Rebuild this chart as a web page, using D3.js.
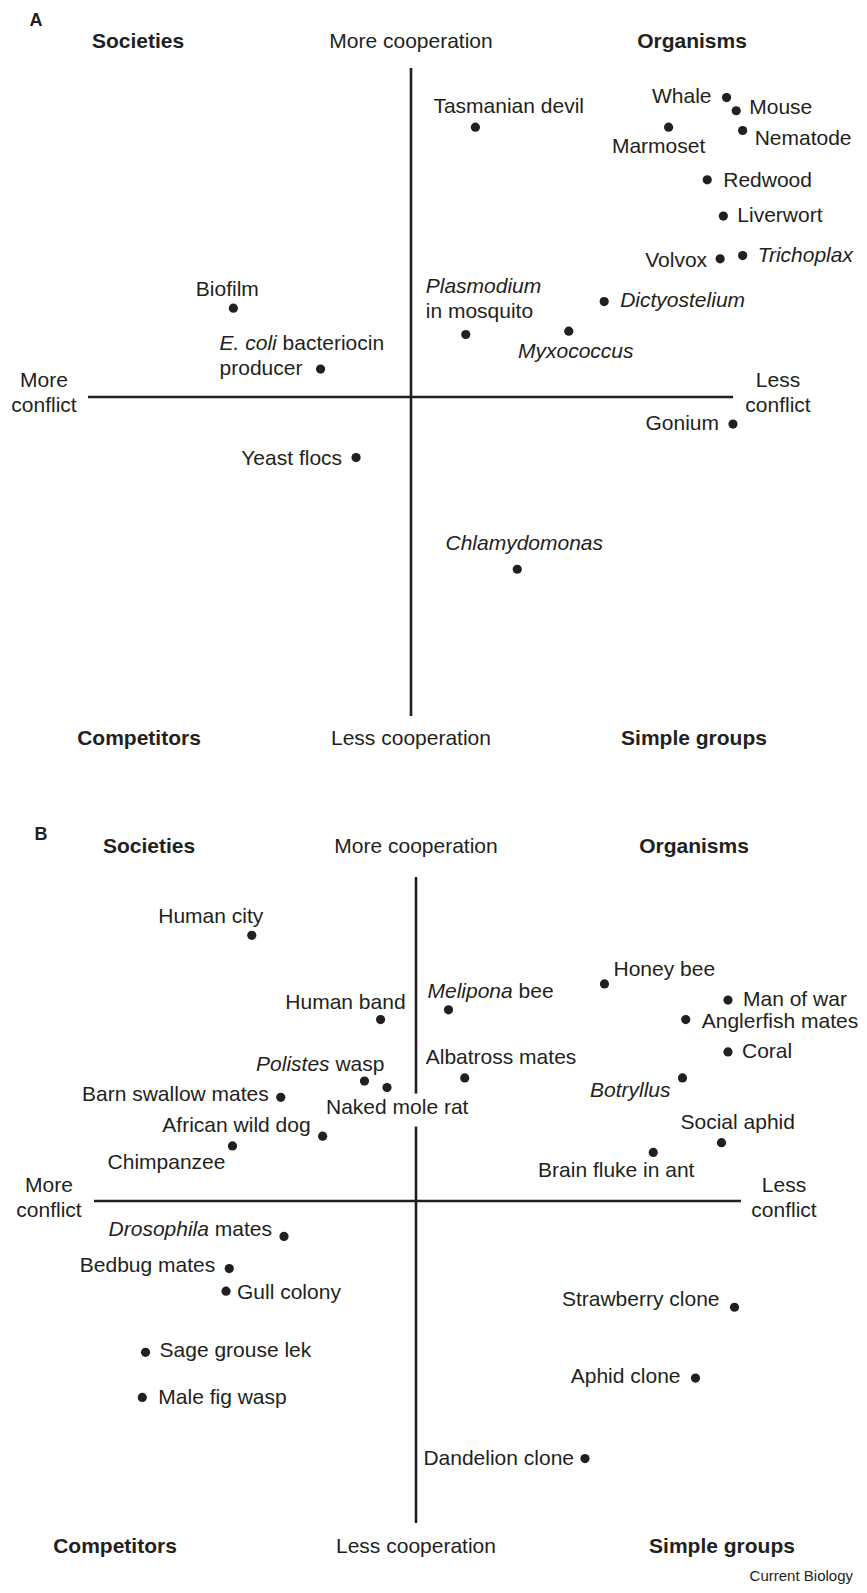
<!DOCTYPE html>
<html>
<head>
<meta charset="utf-8">
<script src="https://cdn.jsdelivr.net/npm/d3@7"></script>
<style>
  body { margin: 0; background: #fff; }
  text { font-family: "Liberation Sans", Arial, Helvetica, sans-serif; fill: #231f20; }
</style>
</head>
<body>
<svg id="chart" width="867" height="1593"></svg>
<script>
// ---- data: conflict (-100 more .. 100 less), cooperation (-100 less .. 100 more)
// labels: "_x_" = italic, "|" = line break
var namesA = ["Tasmanian devil", "Whale", "Mouse", "Marmoset", "Nematode", "Redwood",
  "Liverwort", "Volvox", "_Trichoplax_", "_Dictyostelium_", "_Plasmodium_|in mosquito",
  "_Myxococcus_", "Biofilm", "_E. coli_ bacteriocin|producer", "Gonium", "Yeast flocs",
  "_Chlamydomonas_"];
var conflictA    = [20, 98, 101, 80, 103, 92, 97, 96, 103, 60, 17, 49, -55, -28, 100, -17, 33];
var cooperationA = [82, 91, 87, 82, 81, 66, 55, 42, 43, 29, 19, 20, 27, 8.5, -8.5, -19, -54];

var namesB = ["Human city", "Human band", "_Melipona_ bee", "Honey bee", "Man of war",
  "Anglerfish mates", "Coral", "Albatross mates", "_Botryllus_", "_Polistes_ wasp",
  "Naked mole rat", "Barn swallow mates", "African wild dog", "Chimpanzee", "Social aphid",
  "Brain fluke in ant", "_Drosophila_ mates", "Bedbug mates", "Gull colony",
  "Sage grouse lek", "Male fig wasp", "Strawberry clone", "Aphid clone", "Dandelion clone"];
var conflictB    = [-51, -11, 10, 58, 96, 83, 96, 15, 82, -16, -9, -42, -29, -57, 94, 73,
  -41, -58, -59, -84, -85, 98, 86, 52];
var cooperationB = [82, 56, 59, 67, 62, 56, 46, 38, 38, 37, 35, 32, 20, 17, 18, 15,
  -11, -21, -28, -47, -61, -33, -55, -80];

var quadrantNames = ["Societies", "Organisms", "Competitors", "Simple groups"];
var axisNames = ["More cooperation", "Less cooperation", "More|conflict", "Less|conflict"];

// ---- label placement: [dx, dy, anchor] relative to the dot
var labelPosA = [[-42,-14,"start"],[-15,5,"end"],[13,3,"start"],[-10,26,"middle"],[12,14,"start"],
  [16,7,"start"],[14,6,"start"],[-13,8,"end"],[15,6,"start"],[16,5,"start"],[-40,-41,"start"],
  [7,27,"middle"],[-6,-12,"middle"],[-101,-19,"start"],[-14,6,"end"],[-14,7,"end"],[7,-19,"middle"]];
var labelPosB = [[-41,-12,"middle"],[25,-11,"end"],[-21,-12,"start"],[9,-8,"start"],[15,6,"start"],
  [16,8,"start"],[14,6,"start"],[-39,-14,"start"],[-12,19,"end"],[20,-10,"end"],[-61,26,"start"],
  [-12,4,"end"],[-12,-4,"end"],[-7,23,"end"],[-41,-14,"start"],[-37,25,"middle"],[-12,0,"end"],
  [-14,3,"end"],[11,8,"start"],[14,5,"start"],[16,7,"start"],[-15,-1,"end"],[-15,5,"end"],[-11,6,"end"]];

var panels = [
  { tag: "A", tagPos: [36, 26], xr: [88, 411, 733], yr: [716, 397, 68],
    names: namesA, xs: conflictA, ys: cooperationA, pos: labelPosA,
    topY: 48, botY: 745, leftX: 44, rightX: 778, leftY: -10,
    quadX: [138, 692, 139, 694] },
  { tag: "B", tagPos: [41, 840], xr: [94, 416, 741], yr: [1523, 1201, 877],
    names: namesB, xs: conflictB, ys: cooperationB, pos: labelPosB,
    topY: 853, botY: 1553, leftX: 49, rightX: 784, leftY: -9,
    quadX: [149, 694, 115, 722], knockout: "Naked mole rat" }
];

var svg = d3.select("#chart");
var ink = "#231f20";
var fs = 21;

function addLabel(g, str, x, y, anchor, size, weight) {
  var t = g.append("text")
    .attr("x", x).attr("y", y)
    .attr("text-anchor", anchor)
    .style("font-size", size + "px")
    .style("font-weight", weight || "normal");
  str.split("|").forEach(function (line, li) {
    var first = null;
    line.split("_").forEach(function (part, pi) {
      if (part === "") return;
      var ts = t.append("tspan").text(part);
      if (pi % 2 === 1) ts.style("font-style", "italic");
      if (!first) first = ts;
    });
    // new line: reset x and move down
    if (li > 0 && first) first.attr("x", x).attr("dy", 25);
  });
  return t;
}

panels.forEach(function (p) {
  var x = d3.scaleLinear().domain([-100, 0, 100]).range(p.xr);
  var y = d3.scaleLinear().domain([-100, 0, 100]).range(p.yr);
  var g = svg.append("g");

  // panel tag
  g.append("text").attr("x", p.tagPos[0]).attr("y", p.tagPos[1])
    .attr("text-anchor", "middle").style("font-size", "18px").style("font-weight", "bold")
    .text(p.tag);

  // axes
  g.append("line").attr("x1", x(-100)).attr("x2", x(100)).attr("y1", y(0)).attr("y2", y(0))
    .attr("stroke", ink).attr("stroke-width", 2.6);
  g.append("line").attr("x1", x(0)).attr("x2", x(0)).attr("y1", y(-100)).attr("y2", y(100))
    .attr("stroke", ink).attr("stroke-width", 2.6);

  // axis names
  addLabel(g, axisNames[0], x(0), p.topY, "middle", fs);
  addLabel(g, axisNames[1], x(0), p.botY, "middle", fs);
  addLabel(g, axisNames[2], p.leftX, y(0) + p.leftY, "middle", fs);
  addLabel(g, axisNames[3], p.rightX, y(0) + p.leftY, "middle", fs);

  // quadrant names
  addLabel(g, quadrantNames[0], p.quadX[0], p.topY, "middle", fs, "bold");
  addLabel(g, quadrantNames[1], p.quadX[1], p.topY, "middle", fs, "bold");
  addLabel(g, quadrantNames[2], p.quadX[2], p.botY, "middle", fs, "bold");
  addLabel(g, quadrantNames[3], p.quadX[3], p.botY, "middle", fs, "bold");

  // points
  var data = p.names.map(function (n, i) {
    return { name: n, c: p.xs[i], k: p.ys[i], pos: p.pos[i] };
  });
  g.selectAll("circle.dot").data(data).enter().append("circle")
    .attr("class", "dot")
    .attr("cx", function (d) { return x(d.c); })
    .attr("cy", function (d) { return y(d.k); })
    .attr("r", 4.6)
    .attr("fill", ink);

  data.forEach(function (d) {
    var t = addLabel(g, d.name, x(d.c) + d.pos[0], y(d.k) + d.pos[1], d.pos[2], fs);
    if (d.name === p.knockout) {
      // the vertical axis is broken behind this label
      var bb = t.node().getBBox();
      g.insert("rect", function () { return t.node(); })
        .attr("x", bb.x - 2).attr("y", bb.y - 1)
        .attr("width", bb.width + 4).attr("height", bb.height + 10)
        .attr("fill", "#fff");
    }
  });
});

svg.append("text").attr("x", 853).attr("y", 1581).attr("text-anchor", "end")
  .style("font-size", "15px").text("Current Biology");
</script>
</body>
</html>
